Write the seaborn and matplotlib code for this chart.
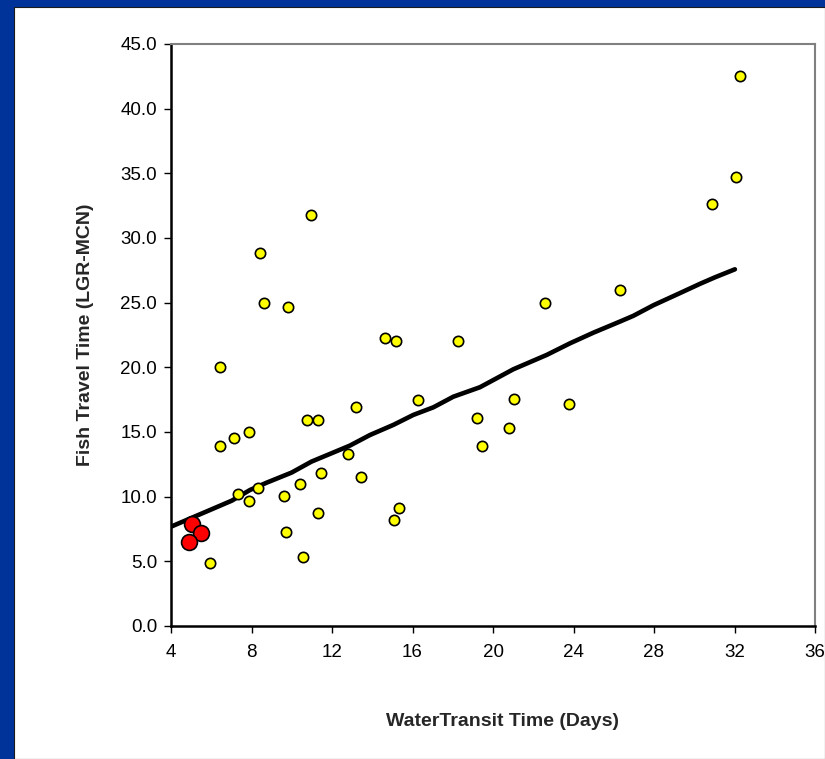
import matplotlib
matplotlib.use("Agg")
import matplotlib.pyplot as plt
import seaborn as sns
import pandas as pd
from matplotlib.patches import Rectangle

# ---- data ----
water_days = [5.92, 6.43, 6.43, 7.15, 7.31, 7.89, 7.89, 8.34, 8.42, 8.62,
              9.63, 9.71, 9.80, 10.41, 10.57, 10.76, 10.94, 11.29, 11.29, 11.45,
              12.81, 13.18, 13.42, 14.65, 15.08, 15.16, 15.33, 16.26, 18.27, 19.22,
              19.47, 20.78, 21.02, 22.58, 23.79, 26.29, 30.87, 32.06, 32.26]
fish_days = [4.9, 20.0, 13.95, 14.5, 10.2, 15.0, 9.65, 10.7, 28.85, 24.95,
             10.05, 7.25, 24.7, 11.0, 5.35, 15.95, 31.8, 15.95, 8.7, 11.8,
             13.3, 16.9, 11.5, 22.25, 8.2, 22.0, 9.1, 17.45, 22.0, 16.1,
             13.95, 15.3, 17.55, 24.95, 17.15, 26.0, 32.6, 34.75, 42.55]

recent_water = [5.04, 5.49, 4.89]
recent_fish = [7.86, 7.22, 6.52]

trend_x = [4.0, 5.94, 7.02, 7.93, 8.75, 9.99, 10.98, 12.06, 12.89, 13.89,
           15.05, 16.04, 17.04, 18.03, 19.35, 20.02, 21.01, 22.67, 23.83, 24.99,
           26.31, 26.97, 27.97, 29.29, 30.29, 31.03, 32.02]
trend_y = [7.68, 8.97, 9.69, 10.52, 11.08, 11.86, 12.71, 13.41, 13.95, 14.77,
           15.55, 16.32, 16.91, 17.73, 18.46, 19.02, 19.85, 20.96, 21.86, 22.68,
           23.54, 23.98, 24.8, 25.74, 26.46, 26.96, 27.58]

x_ticks = [4, 8, 12, 16, 20, 24, 28, 32, 36]
y_ticks = [0, 5, 10, 15, 20, 25, 30, 35, 40, 45]

sns.set_style("white")
plt.rcParams['font.family'] = ['Liberation Sans', 'DejaVu Sans']

W, H = 825, 759
fig = plt.figure(figsize=(W / 100, H / 100), dpi=100)
fig.patch.set_facecolor("#003399")
fig.patches.append(Rectangle((14 / W, 0), 1 - 14 / W, 1 - 7 / H, transform=fig.transFigure,
                             facecolor="white", edgecolor="#1a1a1a", linewidth=0.8, zorder=-5))

ax = fig.add_axes([171 / W, 1 - 626 / H, (815 - 171) / W, (626 - 44) / H])
ax.set_zorder(2)
ax.set_facecolor("white")

df_all = pd.DataFrame({"water": water_days, "fish": fish_days})
df_recent = pd.DataFrame({"water": recent_water, "fish": recent_fish})
df_trend = pd.DataFrame({"x": trend_x, "y": trend_y})

sns.lineplot(data=df_trend, x="x", y="y", ax=ax, color="black", linewidth=3.3,
             sort=False, zorder=2)
sns.scatterplot(data=df_all, x="water", y="fish", ax=ax, color="#ffff00",
                edgecolor="black", linewidth=1.2, s=55, zorder=3)
sns.scatterplot(data=df_recent, x="water", y="fish", ax=ax, color="#ff0000",
                edgecolor="black", linewidth=1.2, s=130, zorder=4)

ax.set_xlim(4, 36)
ax.set_ylim(0, 45)
ax.set_xticks(x_ticks)
ax.set_xticklabels([str(t) for t in x_ticks])
ax.set_yticks(y_ticks)
ax.set_yticklabels([f"{t:.1f}" for t in y_ticks])
ax.tick_params(axis="both", direction="out", length=5, width=1, color="black",
               labelsize=13.5, labelcolor="black", bottom=True, left=True)
ax.tick_params(axis="x", pad=8)
ax.tick_params(axis="y", pad=5)

for side in ["left", "bottom"]:
    ax.spines[side].set_color("black")
    ax.spines[side].set_linewidth(1.8)
for side in ["top", "right"]:
    ax.spines[side].set_color("#808080")
    ax.spines[side].set_linewidth(1.5)

ax.set_xlabel("WaterTransit Time (Days)", fontsize=14, fontweight="bold")
ax.set_ylabel("Fish Travel Time (LGR-MCN)", fontsize=14, fontweight="bold")
ax.xaxis.set_label_coords(0.5155, -0.15)
ax.yaxis.set_label_coords(-0.12, 0.5)

fig.savefig("out.png", dpi=100, facecolor=fig.get_facecolor())
